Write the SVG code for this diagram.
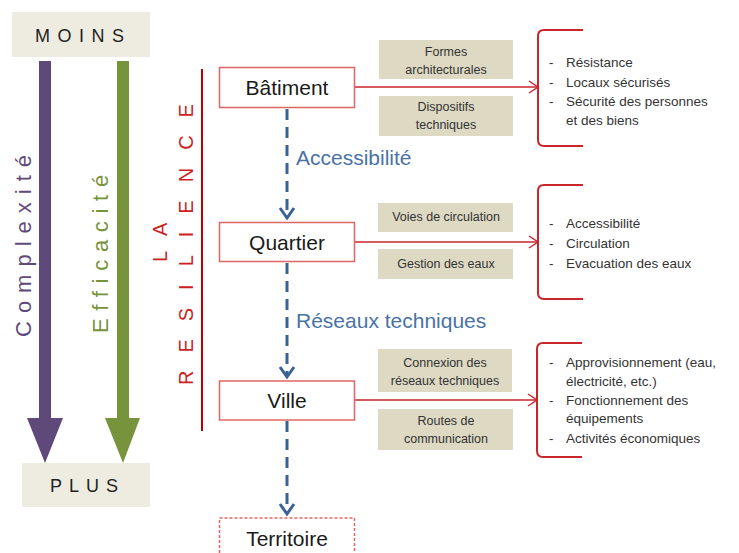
<svg xmlns="http://www.w3.org/2000/svg" width="739" height="553" viewBox="0 0 739 553">
<defs>
<style>
text{font-family:"Liberation Sans",Arial,sans-serif;}
.lbl{fill:#EEECE1;}
.scale{font-size:18px;fill:#1F1F1F;letter-spacing:7.5px;}
.node rect{fill:#fff;stroke:#E06666;stroke-width:1.5;}
.node text{font-size:21px;fill:#1a1a1a;text-anchor:middle;}
.tan rect{fill:#DDD9C3;}
.tan text{font-size:12.5px;fill:#333;text-anchor:middle;}
.blue{font-size:21px;fill:#4A72A6;}
.list text{font-size:13.5px;fill:#333;}
.brk{fill:none;stroke:#C9262C;stroke-width:2;}
.redarrow{stroke:#C9262C;stroke-width:1.5;fill:none;}
.bluedash{stroke:#3A6296;stroke-width:3;stroke-dasharray:11 7;fill:none;}
.chev{stroke:#3A6296;stroke-width:3;fill:none;}
.vert{font-size:22px;}
.res{font-size:20px;fill:#CC1F1F;letter-spacing:18px;}
</style>
<marker id="redHead" markerWidth="12" markerHeight="14" refX="10" refY="7" orient="auto" markerUnits="userSpaceOnUse">
<path d="M1,1 L10,7 L1,13" fill="none" stroke="#C9262C" stroke-width="1.5"/>
</marker>
</defs>

<g id="scale">
<rect class="lbl" x="12" y="12" width="138" height="45"/>
<text class="scale" x="35" y="42">MOINS</text>
<rect class="lbl" x="22" y="463" width="128" height="44"/>
<text class="scale" x="50" y="492" style="letter-spacing:7px">PLUS</text>
<path d="M39,61 H51 V418 H63 L45,463 L27,418 H39 Z" fill="#5F497A"/>
<path d="M117,61 H129 V418 H140 L123,463 L105,418 H117 Z" fill="#77933C"/>
<text class="vert" transform="translate(31,337) rotate(-90)" fill="#5F497A" style="letter-spacing:8px">Complexité</text>
<text class="vert" transform="translate(108,333) rotate(-90)" fill="#77933C" style="letter-spacing:7.7px">Efficacité</text>
</g>

<g id="resilience">
<text class="res" transform="translate(167,262) rotate(-90)" style="letter-spacing:15px">LA</text>
<text class="res" transform="translate(193,385) rotate(-90)">RESILIENCE</text>
<line x1="202" y1="69" x2="202" y2="431" stroke="#C00000" stroke-width="2"/>
</g>

<g id="connectors">
<line class="bluedash" x1="287" y1="109" x2="287" y2="218"/>
<path class="chev" d="M280,208 L287,218 L294,208"/>
<line class="bluedash" x1="287" y1="263" x2="287" y2="377"/>
<path class="chev" d="M280,367 L287,377 L294,367"/>
<line class="bluedash" x1="287" y1="421" x2="287" y2="514"/>
<path class="chev" d="M280,504 L287,514 L294,504"/>
<line class="redarrow" x1="355" y1="87" x2="538" y2="87" marker-end="url(#redHead)"/>
<line class="redarrow" x1="355" y1="242" x2="538" y2="242" marker-end="url(#redHead)"/>
<line class="redarrow" x1="355" y1="400" x2="537" y2="400" marker-end="url(#redHead)"/>
<text class="blue" x="296" y="165">Accessibilité</text>
<text class="blue" x="296" y="328">Réseaux techniques</text>
</g>

<g id="batiment" class="node">
<rect x="219.5" y="67.5" width="135" height="40"/>
<text x="287" y="95">Bâtiment</text>
</g>
<g id="quartier" class="node">
<rect x="219.5" y="222.5" width="135" height="39"/>
<text x="287" y="250">Quartier</text>
</g>
<g id="ville" class="node">
<rect x="219.5" y="381" width="135" height="39"/>
<text x="287" y="408">Ville</text>
</g>
<g id="territoire" class="node">
<rect x="219.5" y="518" width="135" height="45" style="stroke-dasharray:3 2"/>
<text x="287" y="546">Territoire</text>
</g>

<g id="formes" class="tan">
<rect x="379" y="40" width="134" height="39"/>
<text x="446" y="56">Formes</text>
<text x="446" y="74">architecturales</text>
</g>
<g id="dispositifs" class="tan">
<rect x="379" y="96" width="134" height="40"/>
<text x="446" y="111">Dispositifs</text>
<text x="446" y="129">techniques</text>
</g>
<g id="voies" class="tan">
<rect x="378" y="203" width="135" height="29"/>
<text x="446" y="221">Voies de circulation</text>
</g>
<g id="gestion" class="tan">
<rect x="378" y="249" width="135" height="30"/>
<text x="446" y="268">Gestion des eaux</text>
</g>
<g id="connexion" class="tan">
<rect x="378" y="349" width="134" height="43"/>
<text x="445" y="367">Connexion des</text>
<text x="445" y="385">réseaux techniques</text>
</g>
<g id="routes" class="tan">
<rect x="378" y="409" width="135" height="41"/>
<text x="446" y="425">Routes de</text>
<text x="446" y="443">communication</text>
</g>

<g id="effets-batiment" class="list">
<path class="brk" d="M583,30 H544 Q538,30 538,36 V140 Q538,146 544,146 H583"/>
<text x="549" y="67">-</text><text x="566" y="67">Résistance</text>
<text x="549" y="87">-</text><text x="566" y="87">Locaux sécurisés</text>
<text x="549" y="106">-</text><text x="566" y="106">Sécurité des personnes</text>
<text x="566" y="125">et des biens</text>
</g>
<g id="effets-quartier" class="list">
<path class="brk" d="M583,185 H544 Q538,185 538,191 V293 Q538,299 544,299 H583"/>
<text x="549" y="228">-</text><text x="566" y="228">Accessibilité</text>
<text x="549" y="248">-</text><text x="566" y="248">Circulation</text>
<text x="549" y="268">-</text><text x="566" y="268">Evacuation des eaux</text>
</g>
<g id="effets-ville" class="list">
<path class="brk" d="M582,343 H543 Q537,343 537,349 V451 Q537,457 543,457 H582"/>
<text x="549" y="367">-</text><text x="566" y="367">Approvisionnement (eau,</text>
<text x="566" y="386">électricité, etc.)</text>
<text x="549" y="405">-</text><text x="566" y="405">Fonctionnement des</text>
<text x="566" y="423">équipements</text>
<text x="549" y="443">-</text><text x="566" y="443">Activités économiques</text>
</g>
</svg>
